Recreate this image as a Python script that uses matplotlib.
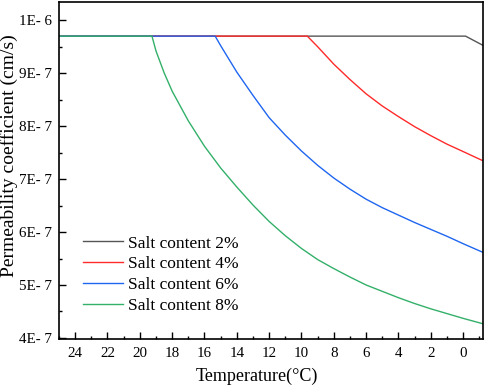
import matplotlib
matplotlib.use("Agg")
import matplotlib.pyplot as plt
from matplotlib.ticker import FixedLocator, MultipleLocator, FuncFormatter

plt.rcParams["font.family"] = ["Liberation Serif", "DejaVu Serif"]

# values, permeability in units of 1E-7 cm/s
temp_2 = [25, -0.15, -1.2]
perm_2 = [9.70, 9.70, 9.53]

temp_4 = [25, 9.64, 9, 8, 7, 6, 5, 4, 3, 2, 1, 0, -1.2]
perm_4 = [9.70, 9.70, 9.50, 9.17, 8.88, 8.61, 8.38, 8.18, 7.99, 7.82, 7.66, 7.52, 7.35]

temp_6 = [25, 15.34, 15, 14, 13, 12, 11, 10, 9, 8, 7, 6, 5, 4, 3, 2, 1, 0, -1.2]
perm_6 = [9.70, 9.70, 9.52, 9.02, 8.58, 8.16, 7.83, 7.53, 7.26, 7.02, 6.81, 6.62,
          6.46, 6.32, 6.18, 6.05, 5.92, 5.78, 5.62]

temp_8 = [25, 19.25, 19, 18.5, 18, 17, 16, 15, 14, 13, 12, 11, 10, 9, 8, 7, 6, 5, 4, 3, 2,
          1, 0, -1.2]
perm_8 = [9.70, 9.70, 9.42, 9.01, 8.66, 8.10, 7.62, 7.21, 6.85, 6.51, 6.20, 5.93, 5.69,
          5.48, 5.31, 5.15, 5.00, 4.88, 4.76, 4.65, 4.55, 4.46, 4.37, 4.27]

labels = ["Salt content 2%", "Salt content 4%", "Salt content 6%", "Salt content 8%"]
colors = ["#555555", "#ff2a2a", "#1f66f0", "#33b06a"]

y_ticks = [4e-7, 5e-7, 6e-7, 7e-7, 8e-7, 9e-7, 1e-6]
y_tick_labels = ["4E- 7", "5E- 7", "6E- 7", "7E- 7", "8E- 7", "9E- 7", "1E- 6"]

fig = plt.figure(figsize=(4.84, 3.89), dpi=100)
ax = fig.add_axes([0.1219, 0.1285, 0.8751, 0.8671])

series = [(temp_2, perm_2), (temp_4, perm_4), (temp_6, perm_6), (temp_8, perm_8)]
for (t, p), lab, c in zip(series, labels, colors):
    ax.plot(t, [v * 1e-7 for v in p], color=c, lw=1.0, label=lab)

ax.set_xlim(25, -1.2)
ax.set_ylim(3.98e-7, 1.035e-6)

ax.xaxis.set_major_locator(FixedLocator(list(range(0, 25, 2))))
ax.xaxis.set_minor_locator(MultipleLocator(1))
ax.yaxis.set_major_locator(FixedLocator(y_ticks))
ax.yaxis.set_major_formatter(FuncFormatter(
    lambda v, pos: y_tick_labels[min(range(len(y_ticks)), key=lambda i: abs(y_ticks[i] - v))]))
ax.yaxis.set_minor_locator(MultipleLocator(0.5e-7))

ax.tick_params(which="both", direction="in", top=False, right=False, labelsize=10.8)
ax.tick_params(axis="y", which="major", length=5, width=1, pad=5)
ax.tick_params(axis="x", which="major", length=5, width=1, pad=5.5)
ax.tick_params(which="minor", length=2.5, width=1)
for s in ax.spines.values():
    s.set_linewidth(1.2)

ax.set_xlabel("Temperature(°C)", fontsize=13)
ax.xaxis.set_label_coords(0.467, -0.085)
ax.set_ylabel("Permeability coefficient (cm/s)", fontsize=14)
ax.yaxis.set_label_coords(-0.096, 0.543)

ax.legend(loc="lower left", bbox_to_anchor=(0.057, 0.074), frameon=False,
          fontsize=12.5, handlelength=2.3, handletextpad=0.3, labelspacing=0.27,
          borderaxespad=0, borderpad=0)

fig.savefig("out.png", dpi=100)
